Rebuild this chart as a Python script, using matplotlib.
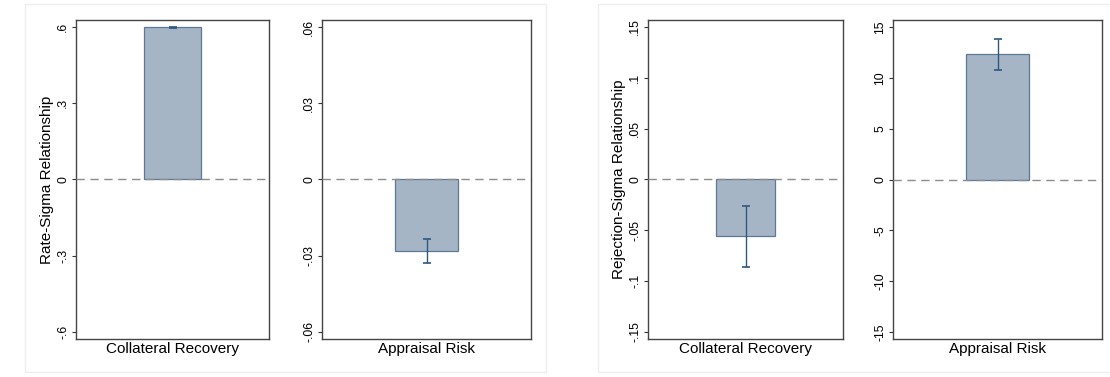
import matplotlib
matplotlib.use("Agg")
import matplotlib.pyplot as plt
from matplotlib.patches import Rectangle

plt.rcParams['font.family'] = ['Liberation Sans', 'DejaVu Sans']

# data
categories = ["Collateral Recovery", "Appraisal Risk", "Collateral Recovery", "Appraisal Risk"]
estimates = [0.600, -0.0283, -0.056, 12.3]
errors = [0.002, 0.0047, 0.030, 1.5]
ylabels = ["Rate-Sigma Relationship", "", "Rejection-Sigma Relationship", ""]
yticks = [[-0.6, -0.3, 0, 0.3, 0.6],
          [-0.06, -0.03, 0, 0.03, 0.06],
          [-0.15, -0.1, -0.05, 0, 0.05, 0.1, 0.15],
          [-15, -10, -5, 0, 5, 10, 15]]
yticklabels = [["-.6", "-.3", "0", ".3", ".6"],
               ["-.06", "-.03", "0", ".03", ".06"],
               ["-.15", "-.1", "-.05", "0", ".05", ".1", ".15"],
               ["-15", "-10", "-5", "0", "5", "10", "15"]]

W, H = 1110, 377
fig = plt.figure(figsize=(W / 100, H / 100), dpi=100)

# light outer frames around each pair of panels
for x0, x1 in [(25, 546), (598, 1112)]:
    fig.patches.append(Rectangle((x0 / W, 1 - 372 / H), (x1 - x0) / W, 368 / H,
                                 transform=fig.transFigure, fill=False,
                                 edgecolor="#eeeeee", linewidth=1))

panels = [(76, 269), (322, 531), (648, 843), (893, 1102)]
top, bottom = 20, 339

for i, (l, r) in enumerate(panels):
    ax = fig.add_axes([l / W, 1 - bottom / H, (r - l) / W, (bottom - top) / H])
    lim = max(yticks[i]) * 1.046
    ax.bar([0], [estimates[i]], width=0.3, color="#a6b5c6",
           edgecolor="#5b7897", linewidth=0.9, zorder=2)
    ax.errorbar([0], [estimates[i]], yerr=[errors[i]], fmt="none",
                ecolor="#2f5880", elinewidth=1.0, capsize=3, capthick=1.2, zorder=3)
    ax.axhline(0, color="#8c8c8c", linestyle=(0, (6, 4)), linewidth=1, zorder=4)
    ax.set_xlim(-0.5, 0.5)
    ax.set_ylim(-lim, lim)
    ax.set_yticks(yticks[i])
    ax.set_yticklabels(yticklabels[i], rotation=90, va="center", fontsize=8.8)
    ax.set_xticks([])
    ax.set_xlabel(categories[i], fontsize=11, labelpad=2)
    if ylabels[i]:
        ax.set_ylabel(ylabels[i], fontsize=11, labelpad=2)
    ax.tick_params(axis="y", length=3, width=0.8, color="#333333", pad=2)
    for s in ax.spines.values():
        s.set_color("#444444")
        s.set_linewidth(1)

fig.savefig("out.png", dpi=100)
